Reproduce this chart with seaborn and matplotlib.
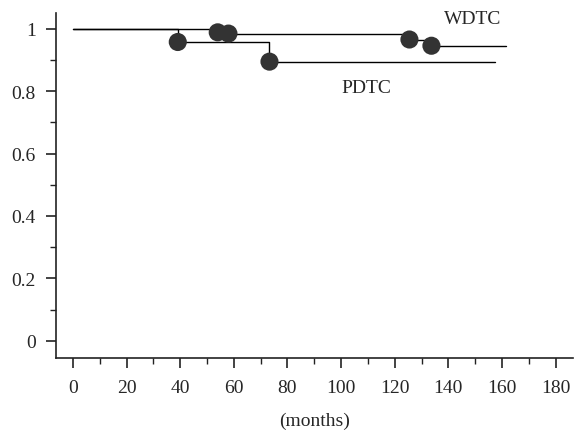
import numpy as np
import matplotlib
matplotlib.use("Agg")
import matplotlib.pyplot as plt
import seaborn as sns
from matplotlib.ticker import MultipleLocator

# Kaplan-Meier style step data (months, survival)
wdtc_time = [0, 54, 58, 125.5, 133.7, 161.6]
wdtc_surv = [1.0, 0.989, 0.985, 0.966, 0.946, 0.946]
wdtc_mark_time = [54, 58, 125.5, 133.7]
wdtc_mark_surv = [0.989, 0.985, 0.966, 0.946]

pdtc_time = [0, 39.1, 73.3, 157.3]
pdtc_surv = [1.0, 0.958, 0.895, 0.895]
pdtc_mark_time = [39.1, 73.3]
pdtc_mark_surv = [0.958, 0.895]

x_ticks = [0, 20, 40, 60, 80, 100, 120, 140, 160, 180]
y_ticks = [0, 0.2, 0.4, 0.6, 0.8, 1]
y_tick_labels = ["0", "0.2", "0.4", "0.6", "0.8", "1"]

sns.set_style("ticks")
plt.rcParams['font.family'] = ['Liberation Serif', 'DejaVu Serif']

fig = plt.figure(figsize=(5.75, 4.31), dpi=100)
ax = fig.add_axes([0.097, 0.166, 0.9, 0.8015])

sns.lineplot(x=wdtc_time, y=wdtc_surv, drawstyle='steps-post', color='black',
             linewidth=1.0, ax=ax, estimator=None, sort=False)
sns.lineplot(x=pdtc_time, y=pdtc_surv, drawstyle='steps-post', color='black',
             linewidth=1.0, ax=ax, estimator=None, sort=False)
sns.scatterplot(x=wdtc_mark_time, y=wdtc_mark_surv, s=170, color='#333333',
                edgecolor='none', ax=ax, zorder=3)
sns.scatterplot(x=pdtc_mark_time, y=pdtc_mark_surv, s=170, color='#333333',
                edgecolor='none', ax=ax, zorder=3)

ax.text(149, 1.032, "WDTC", fontsize=14, ha='center', va='center')
ax.text(109.5, 0.813, "PDTC", fontsize=14, ha='center', va='center')

ax.set_xlim(-6.4, 186.6)
ax.set_ylim(-0.057, 1.051)
ax.set_xticks(x_ticks)
ax.set_yticks(y_ticks)
ax.set_yticklabels(y_tick_labels)
ax.xaxis.set_minor_locator(MultipleLocator(10))
ax.yaxis.set_minor_locator(MultipleLocator(0.1))
ax.tick_params(which='major', length=7.5, width=1.2, labelsize=14, pad=7, color='#222222')
ax.tick_params(which='minor', length=4, width=1.0, color='#222222')

ax.set_xlabel("(months)", fontsize=14)
ax.xaxis.set_label_coords(0.5, -0.155)
ax.set_ylabel("")

for side in ['top', 'right']:
    ax.spines[side].set_visible(False)
for side in ['left', 'bottom']:
    ax.spines[side].set_linewidth(1.2)
    ax.spines[side].set_color('#222222')

fig.savefig("out.png", dpi=100)
